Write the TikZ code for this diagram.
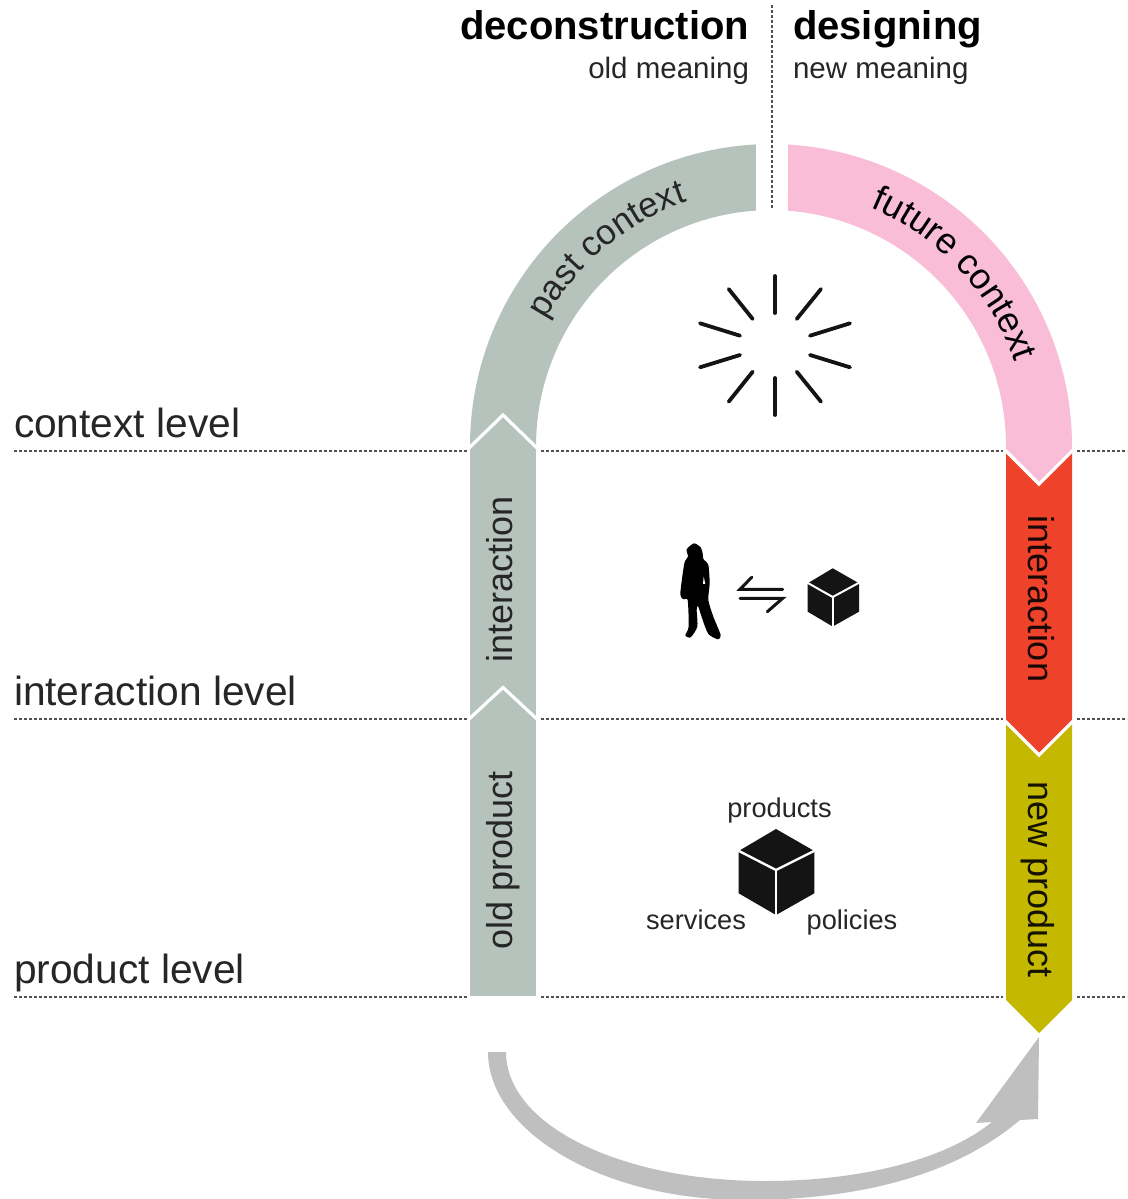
\documentclass[tikz,border=0pt]{standalone}
\usepackage{fontspec}
\setmainfont{Liberation Sans}
\usetikzlibrary{decorations.text}
\definecolor{sage}{HTML}{B5C3BC}
\definecolor{rosa}{HTML}{F9BDD7}
\definecolor{signal}{HTML}{EE422B}
\definecolor{olive}{HTML}{C4B800}
\definecolor{sweep}{HTML}{BFBFBF}
\definecolor{ink}{HTML}{262626}
\definecolor{coal}{HTML}{141414}
\newcommand{\fs}[1]{\fontsize{#1}{#1}\selectfont}
\tikzset{
  x=1pt,y=-1pt,
  levelline/.style={draw=ink!80,line width=2pt,dash pattern=on 3pt off 2pt},
  gapline/.style={draw=white,line width=3.2pt,line cap=butt,line join=miter},
  txt/.style={inner sep=0pt,outer sep=0pt,text=ink},
  leveltxt/.style={txt,anchor=base west,font=\fs{40.7}},
  bandtxt/.style={txt,anchor=base,font=\fs{36}},
  head/.style={txt,font=\bfseries\fs{40},text=black},
  sub/.style={txt,font=\fs{29.5}},
  small/.style={txt,anchor=base,font=\fs{27.2}},
  ray/.style={draw=coal,line width=3.8pt,line cap=round},
  swap/.style={draw=coal,line width=3pt,line cap=round,line join=miter},
  cubeface/.style={fill=coal,draw=none},
  cubeedge/.style={draw=white,line width=2.4pt},
}
\begin{document}
\begin{tikzpicture}
\useasboundingbox (0,0) rectangle (1127,1199);
\fill[white] (0,0) rectangle (1127,1199);
\clip (0,0) rectangle (1127,1199);

% level lines
\foreach \y in {450.5,718.5,997}{
  \draw[levelline] (14,\y) -- (467,\y);
  \draw[levelline] (541,\y) -- (1003,\y);
  \draw[levelline] (1077,\y) -- (1127,\y);
}
\draw[levelline] (772,5) -- (772,208);

% left band
\fill[sage] plot[domain=180:93.04,samples=70] ({772+302*cos(\x)},{446-302*sin(\x)})
  -- plot[domain=93.89:180,samples=70] ({772+236*cos(\x)},{446-236*sin(\x)}) -- cycle;
\fill[sage] (470,445) rectangle (536,996);
\draw[gapline] (468,449) -- (503,415) -- (538,449);
\draw[gapline] (468,720) -- (503,687.5) -- (538,720);

% right band
\fill[rosa] plot[domain=86.58:0,samples=70] ({770+302*cos(\x)},{446-302*sin(\x)})
  -- (1072,452) -- (1039,483) -- (1006,452) -- (1006,446)
  -- plot[domain=0:85.63,samples=70] ({770+236*cos(\x)},{446-236*sin(\x)}) -- cycle;
\fill[signal] (1006,452) -- (1039,483) -- (1072,452) -- (1072,722) -- (1039,754) -- (1006,722) -- cycle;
\fill[olive] (1006,722) -- (1039,754) -- (1072,722) -- (1072,1000) -- (1039,1033) -- (1006,1000) -- cycle;
\draw[gapline] (1004,449) -- (1039,484) -- (1074,449);
\draw[gapline] (1004,720) -- (1039,755) -- (1074,720);

% curved labels
\path[decorate,decoration={text along path,text align=center,
   text={|\fs{35}\color{ink}|past context}}]
   plot[domain=175:85,samples=90] ({772+259*cos(\x)},{446-259*sin(\x)});
\path[decorate,decoration={text along path,text align=center,
   text={|\fs{36}\color{black}|future context}}]
   plot[domain=88:-2,samples=90] ({770+259*cos(\x)},{446-259*sin(\x)});

% band labels
\node[bandtxt,rotate=90] (lint) at (512,579.5) {interaction};
\node[bandtxt,rotate=90] (lold) at (512,860) {old product};
\node[bandtxt,rotate=-90,text=black!90!signal] (rint) at (1028,599) {interaction};
\node[bandtxt,rotate=-90,text=black!90!olive] (rnew) at (1028,880) {new product};

% level labels
\node[leveltxt] (lvlc) at (14,437) {context level};
\node[leveltxt] (lvli) at (14,705) {interaction level};
\node[leveltxt] (lvlp) at (14,983) {product level};

% headings
\node[head,anchor=base east] (hdec) at (749,40) {deconstruction};
\node[head,anchor=base west] (hdes) at (793,40) {designing};
\node[sub,anchor=base east] (hold) at (749,78) {old meaning};
\node[sub,anchor=base west] (hnew) at (793,78) {new meaning};

% burst
\draw[ray] (775,276) -- (775,313);
\draw[ray] (775,378) -- (775,415);
\draw[ray] (796.7,319) -- (821,289);
\draw[ray] (752.7,319) -- (728.7,289);
\draw[ray] (796.7,371.7) -- (821,401.7);
\draw[ray] (752.7,371.7) -- (728.7,401.7);
\draw[ray] (810,335.7) -- (850,323.3);
\draw[ray] (810,355) -- (850,367.3);
\draw[ray] (740,335.7) -- (700,323.3);
\draw[ray] (740,355) -- (700,367.3);

% person
\begin{scope}[shift={(640,520)},x=0.3333pt,y=-0.3333pt]
\fill[black] plot[smooth cycle,tension=0.4] coordinates {
 (162,70) (182,82) (188,100) (190,117) (205,135) (209,190) (205,240)
 (220,290) (242,345) (234,358) (205,342) (188,300) (174,258) (170,270) (172,320)
 (152,352) (136,346) (146,320) (143,240) (130,238) (121,220) (133,130) (144,110) (140,88)};
\fill[white] (191,170) -- (196,192) -- (189,192) -- cycle;
\end{scope}

% exchange arrows
\draw[swap] (782.7,589.3) -- (740,589.3) -- (751.7,577.3);
\draw[swap] (740,598.3) -- (782.7,598.3) -- (767.3,611.7);

% small cube
\fill[cubeface] (832.7,568.3) -- (859,583.3) -- (859,611.7) -- (832.7,626.5) -- (807.7,611.7) -- (807.7,583.3) -- cycle;
\draw[cubeedge,line width=2pt] (807,582.5) -- (832.7,597) -- (859.5,582.5);
\draw[cubeedge,line width=2pt] (832.7,597) -- (832.7,627);

% big cube
\fill[cubeface] (776,829) -- (814.3,851) -- (814.3,893.3) -- (776,915) -- (738.7,893.3) -- (738.7,851) -- cycle;
\draw[cubeedge] (738,850.5) -- (776,870) -- (815,850.5);
\draw[cubeedge] (776,870) -- (776,916);

\node[small] (tprod) at (779.5,817) {products};
\node[small] (tserv) at (696,929) {services};
\node[small] (tpoli) at (852,929) {policies};

% sweep arrow
\coordinate (sweepstart) at (497,1052);
\coordinate (sweeptip) at (1039,1037);
\fill[sweep] (488,1052) .. controls (488,1130) and (600,1200) .. (745,1200)
  .. controls (860,1200) and (955,1175) .. (1020,1120)
  -- (1038,1119) -- (sweeptip) -- (976,1123) -- (992,1122)
  .. controls (945,1160) and (860,1181) .. (765,1181)
  .. controls (620,1181) and (506,1125) .. (506,1052) -- cycle;
\end{tikzpicture}
\end{document}
